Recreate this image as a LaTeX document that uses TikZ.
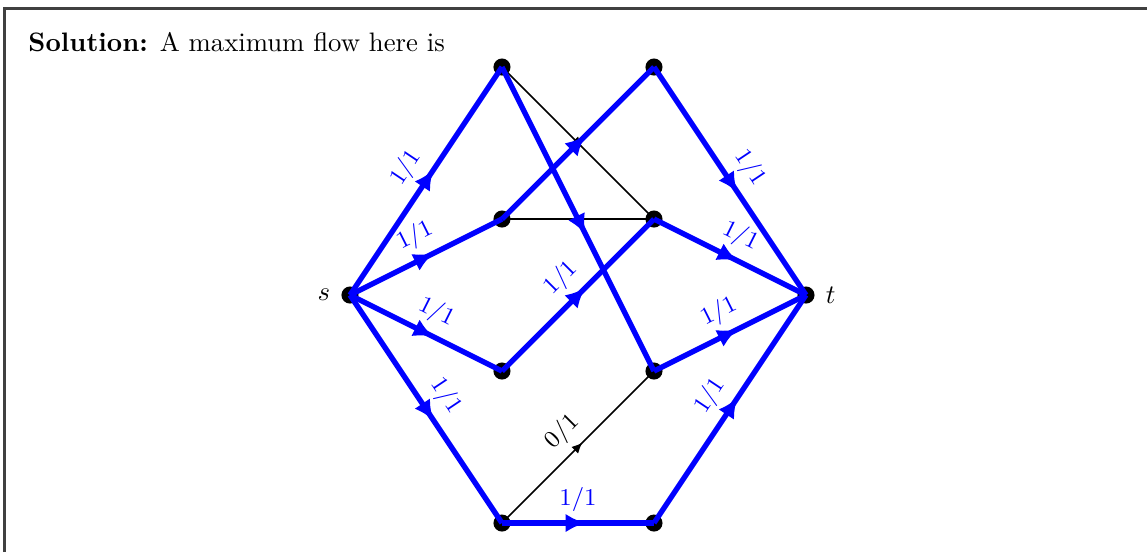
\documentclass[tikz,border=0pt]{standalone}
\usepackage{amsmath,amssymb}
\usetikzlibrary{arrows.meta,positioning,decorations.markings}

\tikzset{
  vert/.style={circle,fill=black,inner sep=0pt,minimum size=6.4pt},
  flow/.style={draw=blue,line width=2pt,postaction={decorate},
    decoration={markings,mark=at position 0.55 with {\arrow{Latex[length=7.5pt,width=7pt]}}}},
  noflow/.style={draw=black,line width=.6pt,postaction={decorate},
    decoration={markings,mark=at position 0.53 with {\arrow{Latex[length=4pt,width=3.6pt]}}}},
  lab/.style={sloped,above,font=\small,text=blue},
}

\begin{document}
\begin{tikzpicture}[every node/.style={font=\normalsize}]
\useasboundingbox (-4.605,-3.382) rectangle (10.487,3.882);
\draw[line width=.8pt,black!75] (-4.546,-3.382) -- (-4.546,3.77) -- (10.487,3.77);
\node[anchor=base west,inner sep=0pt] (title) at (-4.237,3.198) {\textbf{Solution:} A maximum flow here is};
% vertices
\node[vert] (s) at (0,0) {};
\node[vert] (a) at (2,3) {};
\node[vert] (b) at (4,3) {};
\node[vert] (c) at (2,1) {};
\node[vert] (d) at (4,1) {};
\node[vert] (e) at (2,-1) {};
\node[vert] (f) at (4,-1) {};
\node[vert] (g) at (2,-3) {};
\node[vert] (h) at (4,-3) {};
\node[vert] (t) at (6,0) {};
\node[left=0.5pt of s] (slab) {$s$};
\node[right=0.5pt of t] (tlab) {$t$};
% edges without flow
\draw[noflow] (a.center) -- (d.center);
\draw[line width=.6pt] (c.center) -- (d.center);
\draw[noflow] (g.center) -- node[sloped,above,font=\small] {0/1} (f.center);
% edges with flow
\draw[flow] (s.center) -- node[lab] {1/1} (a.center);
\draw[flow] (s.center) -- node[lab] {1/1} (c.center);
\draw[flow] (s.center) -- node[lab] {1/1} (e.center);
\draw[flow] (s.center) -- node[lab] {1/1} (g.center);
\draw[flow] (a.center) -- (f.center);
\draw[flow] (c.center) -- (b.center);
\draw[flow] (e.center) -- node[lab] {1/1} (d.center);
\draw[flow] (g.center) -- node[lab] {1/1} (h.center);
\draw[flow] (b.center) -- node[lab] {1/1} (t.center);
\draw[flow] (d.center) -- node[lab] {1/1} (t.center);
\draw[flow] (f.center) -- node[lab] {1/1} (t.center);
\draw[flow] (h.center) -- node[lab] {1/1} (t.center);
\end{tikzpicture}
\end{document}
